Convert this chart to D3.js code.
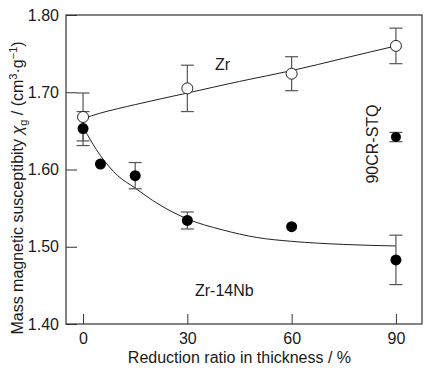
<!DOCTYPE html>
<html>
<head>
<meta charset="utf-8">
<script src="https://cdn.jsdelivr.net/npm/d3@7"></script>
<style>
  body { margin: 0; background: #fff; }
  text { font-family: "Liberation Sans", Arial, sans-serif; fill: #1a1a1a; }
</style>
</head>
<body>
<div id="chart"></div>
<script>
// Data
var zrX = [0, 30, 60, 90];
var zrY = [1.668, 1.705, 1.724, 1.760];
var zrErr = [0.031, 0.030, 0.022, 0.023];

var nbX = [0, 5, 15, 30, 60, 90];
var nbY = [1.653, 1.607, 1.592, 1.534, 1.526, 1.483];
var nbErr = [0.022, 0, 0.017, 0.011, 0, 0.032];

var stqX = [90];
var stqY = [1.642];
var stqErr = [0.006];

// fitted curves
var zrFitX = [0, 5, 15, 30, 45, 60, 75, 90];
var zrFitY = [1.666, 1.673, 1.684, 1.699, 1.714, 1.728, 1.744, 1.760];
var nbFitX = [0, 5, 10, 15, 20, 30, 40, 50, 60, 75, 90];
var nbFitY = [1.655, 1.618, 1.592, 1.576, 1.560, 1.536, 1.522, 1.512, 1.507, 1.503, 1.501];

var xTicks = [0, 30, 60, 90];
var yTicks = [1.40, 1.50, 1.60, 1.70, 1.80];

// Set SVG specs
var svgWidth = 430;
var svgHeight = 371;
var margin = { top: 15, right: 8, bottom: 47, left: 66 };
var width = svgWidth - margin.left - margin.right;
var height = svgHeight - margin.top - margin.bottom;

var svg = d3.select("#chart")
  .append("svg")
  .attr("width", svgWidth)
  .attr("height", svgHeight);

var g = svg.append("g")
  .attr("transform", `translate(${margin.left}, ${margin.top})`);

var x = d3.scaleLinear().domain([-4.9, 97.5]).range([0, width]);
var y = d3.scaleLinear().domain([1.40, 1.80]).range([height, 0]);

// frame
g.append("rect")
  .attr("width", width)
  .attr("height", height)
  .attr("fill", "none")
  .attr("stroke", "#333")
  .attr("stroke-width", 1.2);

// inward ticks
var bottomAxis = d3.axisBottom(x).tickValues(xTicks).tickSize(-10).tickPadding(9).tickFormat(d3.format("d"));
var leftAxis = d3.axisLeft(y).tickValues(yTicks).tickSize(-11).tickPadding(7).tickFormat(d3.format(".2f"));

var xg = g.append("g").attr("transform", `translate(0, ${height})`).call(bottomAxis);
var yg = g.append("g").call(leftAxis);
[xg, yg].forEach(function(a) {
  a.select(".domain").remove();
  a.selectAll("line").attr("stroke", "#333");
  a.selectAll("text").attr("font-size", "16px").attr("fill", "#1a1a1a")
    .style("font-family", "'Liberation Sans', Arial, sans-serif");
});

// fit lines
var line = d3.line().x(d => x(d[0])).y(d => y(d[1])).curve(d3.curveMonotoneX);
g.append("path")
  .datum(d3.zip(zrFitX, zrFitY))
  .attr("d", line)
  .attr("fill", "none").attr("stroke", "#222").attr("stroke-width", 1);
g.append("path")
  .datum(d3.zip(nbFitX, nbFitY))
  .attr("d", line)
  .attr("fill", "none").attr("stroke", "#222").attr("stroke-width", 1);

// error bars
function errorBars(xs, ys, es) {
  var data = d3.zip(xs, ys, es).filter(d => d[2] > 0);
  var eg = g.append("g").attr("stroke", "#555").attr("stroke-width", 1.2);
  data.forEach(function(d) {
    var cx = x(d[0]);
    eg.append("line").attr("x1", cx).attr("x2", cx)
      .attr("y1", y(d[1] - d[2])).attr("y2", y(d[1] + d[2]));
    [d[1] - d[2], d[1] + d[2]].forEach(function(v) {
      eg.append("line").attr("x1", cx - 6.5).attr("x2", cx + 6.5)
        .attr("y1", y(v)).attr("y2", y(v));
    });
  });
}
errorBars(zrX, zrY, zrErr);
errorBars(nbX, nbY, nbErr);
errorBars(stqX, stqY, stqErr);

// points
g.selectAll(".nb")
  .data(d3.zip(nbX, nbY))
  .enter().append("circle")
  .attr("cx", d => x(d[0])).attr("cy", d => y(d[1]))
  .attr("r", 5.5).attr("fill", "#000");

g.selectAll(".stq")
  .data(d3.zip(stqX, stqY))
  .enter().append("circle")
  .attr("cx", d => x(d[0])).attr("cy", d => y(d[1]))
  .attr("r", 5).attr("fill", "#000");

g.selectAll(".zr")
  .data(d3.zip(zrX, zrY))
  .enter().append("circle")
  .attr("cx", d => x(d[0])).attr("cy", d => y(d[1]))
  .attr("r", 5.5).attr("fill", "#fff").attr("stroke", "#222").attr("stroke-width", 1);

// series labels
svg.append("text").attr("x", 215).attr("y", 70).attr("font-size", "16px").text("Zr");
svg.append("text").attr("x", 195).attr("y", 296).attr("font-size", "16px").text("Zr-14Nb");
svg.append("text")
  .attr("transform", "translate(378, 144) rotate(-90)")
  .attr("text-anchor", "middle")
  .attr("font-size", "16px")
  .text("90CR-STQ");

// axis titles
svg.append("text")
  .attr("x", margin.left + x(45)).attr("y", 363)
  .attr("text-anchor", "middle")
  .attr("font-size", "16px")
  .text("Reduction ratio in thickness / %");

var yt = svg.append("text")
  .attr("transform", "translate(23, 188) rotate(-90)")
  .attr("text-anchor", "middle")
  .attr("font-size", "16px");
yt.append("tspan").text("Mass magnetic susceptibity ");
yt.append("tspan").attr("font-style", "italic").text("χ");
yt.append("tspan").attr("font-size", "11px").attr("dy", 4).text("g");
yt.append("tspan").attr("dy", -4).text(" / (cm");
yt.append("tspan").attr("font-size", "11px").attr("dy", -6).text("3");
yt.append("tspan").attr("dy", 6).text("·g");
yt.append("tspan").attr("font-size", "11px").attr("dy", -6).text("−1");
yt.append("tspan").attr("dy", 6).text(")");
</script>
</body>
</html>
